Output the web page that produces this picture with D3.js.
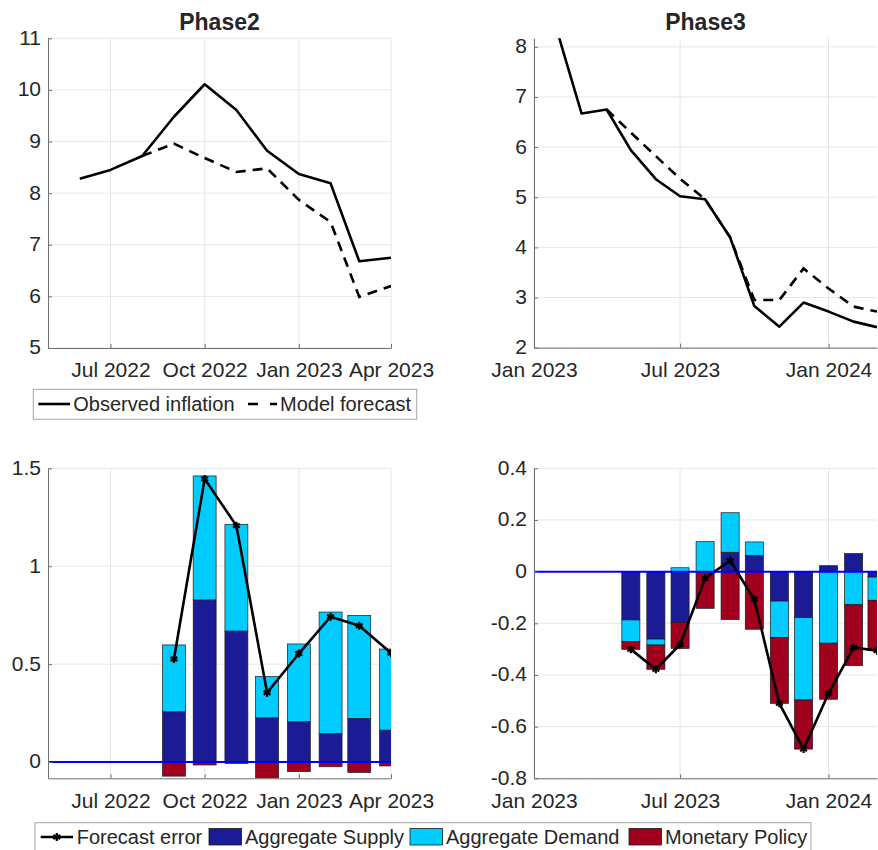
<!DOCTYPE html>
<html><head><meta charset="utf-8">
<script src="https://cdn.jsdelivr.net/npm/d3@7"></script>
<style>
body{margin:0;background:#fff}
svg{display:block}
text{font-family:"Liberation Sans",Arial,Helvetica,sans-serif;fill:#262626}
</style>
</head><body>
<svg id="c" width="878" height="850"></svg>
<script>
// ---------------- DATA ----------------
const p2ObsMonths = ["2022-06","2022-07","2022-08","2022-09","2022-10","2022-11","2022-12","2023-01","2023-02","2023-03","2023-04"];
const p2Observed  = [8.28, 8.45, 8.72, 9.48, 10.11, 9.61, 8.82, 8.37, 8.19, 6.68, 6.75];
const p2FcMonths  = ["2022-08","2022-09","2022-10","2022-11","2022-12","2023-01","2023-02","2023-03","2023-04"];
const p2Forecast  = [8.72, 8.96, 8.68, 8.41, 8.48, 7.87, 7.44, 5.99, 6.20];

const p3ObsMonths = ["2023-02","2023-03","2023-04","2023-05","2023-06","2023-07","2023-08","2023-09","2023-10","2023-11","2023-12","2024-01","2024-02","2024-03"];
const p3Observed  = [8.19, 6.67, 6.75, 5.94, 5.36, 5.02, 4.96, 4.20, 2.83, 2.42, 2.90, 2.72, 2.52, 2.41];
const p3FcMonths  = ["2023-04","2023-05","2023-06","2023-07","2023-08","2023-09","2023-10","2023-11","2023-12","2024-01","2024-02","2024-03"];
const p3Forecast  = [6.75, 6.29, 5.82, 5.37, 4.96, 4.20, 2.95, 2.95, 3.58, 3.18, 2.82, 2.72];

const p2BarMonths = ["2022-09","2022-10","2022-11","2022-12","2023-01","2023-02","2023-03","2023-04"];
const p2Supply    = [0.257, 0.828, 0.669, 0.226, 0.206, 0.146, 0.223, 0.163];
const p2Demand    = [0.341, 0.633, 0.545, 0.211, 0.397, 0.620, 0.526, 0.414];
const p2Monetary  = [-0.072, -0.015, -0.007, -0.083, -0.049, -0.024, -0.053, -0.020];
const p2FcError   = [0.526, 1.446, 1.207, 0.354, 0.554, 0.742, 0.696, 0.557];

const p3BarMonths = ["2023-05","2023-06","2023-07","2023-08","2023-09","2023-10","2023-11","2023-12","2024-01","2024-02","2024-03"];
const p3Supply    = [-0.187, -0.261, -0.197, 0.000, 0.075, 0.063, -0.114, -0.178, 0.023, 0.070, -0.021];
const p3Demand    = [-0.084, -0.023, 0.015, 0.116, 0.153, 0.052, -0.141, -0.319, -0.277, -0.128, -0.090];
const p3Monetary  = [-0.030, -0.094, -0.100, -0.142, -0.185, -0.223, -0.255, -0.190, -0.217, -0.236, -0.195];
const p3FcError   = [-0.301, -0.378, -0.282, -0.026, 0.043, -0.108, -0.510, -0.687, -0.471, -0.294, -0.306];

const p2XTicks = ["2022-07","2022-10","2023-01","2023-04"];
const p2XTickLabels = ["Jul 2022","Oct 2022","Jan 2023","Apr 2023"];
const p3XTicks = ["2023-01","2023-07","2024-01"];
const p3XTickLabels = ["Jan 2023","Jul 2023","Jan 2024"];
const p2XDomain = ["2022-05","2023-04"];
const p3XDomain = ["2023-01","2024-03"];

const topLeftYTicks = [5,6,7,8,9,10,11];
const topRightYTicks = [2,3,4,5,6,7,8];
const botLeftYTicks = [0,0.5,1,1.5];
const botRightYTicks = [-0.8,-0.6,-0.4,-0.2,0,0.2,0.4];

const titles = ["Phase2","Phase3"];
const lineLegend = ["Observed inflation","Model forecast"];
const barLegend = ["Forecast error","Aggregate Supply","Aggregate Demand","Monetary Policy"];
const seriesKeys = ["supply","demand","monetary"];
const seriesColors = {supply:"#1b1b96", demand:"#00ccff", monetary:"#a0001e"};

// ---------------- DRAW ----------------
const parse = d3.timeParse("%Y-%m");
const svg = d3.select("#c");
const FONT = 21;
const DAY = 864e5;
let clipId = 0;

function makePanel(o){
  const x = d3.scaleTime().domain(o.xDomain.map(parse)).range(o.xRange);
  const y = d3.scaleLinear().domain(o.yDomain).range(o.yRange);
  const g = svg.append("g");
  const [x0,x1] = o.xRange, [yb,yt] = o.yRange;
  const id = "clip"+(clipId++);
  svg.append("clipPath").attr("id",id).append("rect")
     .attr("x",x0).attr("y",yt).attr("width",x1-x0).attr("height",yb-yt);
  // grid
  const grid = g.append("g").attr("stroke","#e6e6e6").attr("stroke-width",1);
  grid.selectAll(".gx").data(o.xTicks.map(parse)).join("line")
     .attr("x1",d=>x(d)).attr("x2",d=>x(d)).attr("y1",yt).attr("y2",yb);
  grid.selectAll(".gy").data(o.yTicks).join("line")
     .attr("y1",d=>y(d)).attr("y2",d=>y(d)).attr("x1",x0).attr("x2",x1);
  const plot = g.append("g").attr("clip-path",`url(#${id})`);
  // axes
  const ax = g.append("g").attr("transform",`translate(0,${yb})`)
    .call(d3.axisBottom(x).tickValues(o.xTicks.map(parse))
      .tickFormat((d,i)=>o.xTickLabels[i]).tickSize(-4).tickSizeOuter(0).tickPadding(14.5));
  const ay = g.append("g").attr("transform",`translate(${x0},0)`)
    .call(d3.axisLeft(y).tickValues(o.yTicks).tickFormat(d=>String(d)).tickSize(-4).tickSizeOuter(0).tickPadding(7));
  ay.selectAll(".tick text").attr("dy","0.28em");
  [ax,ay].forEach(a=>{
    a.select(".domain").attr("stroke","#707070").attr("stroke-width",1);
    a.selectAll(".tick line").attr("stroke","#707070");
    a.selectAll("text").attr("font-size",FONT).attr("fill","#262626")
      .style("font-family",'"Liberation Sans",Arial,Helvetica,sans-serif');
  });
  if(o.title){
    g.append("text").attr("x",(x0+x1)/2).attr("y",29.5).attr("text-anchor","middle")
     .attr("font-size",23).attr("font-weight","bold").attr("fill","#000").text(o.title);
  }
  return {x,y,plot,g};
}

function linePanel(o){
  const P = makePanel(o);
  const line = d3.line().x(d=>P.x(d.date)).y(d=>P.y(d.v));
  const obs = o.obsMonths.map((m,i)=>({date:parse(m),v:o.observed[i]}));
  const fc = o.fcMonths.map((m,i)=>({date:parse(m),v:o.forecast[i]}));
  P.plot.append("path").datum(fc).attr("d",line).attr("fill","none")
    .attr("stroke","#000").attr("stroke-width",2.6).attr("stroke-dasharray","10,7");
  P.plot.append("path").datum(obs).attr("d",line).attr("fill","none")
    .attr("stroke","#000").attr("stroke-width",2.6).attr("stroke-linejoin","round");
}

function barPanel(o){
  const P = makePanel(o);
  const rows = o.months.map((m,i)=>({date:parse(m),supply:o.supply[i],demand:o.demand[i],monetary:o.monetary[i]}));
  const stack = d3.stack().keys(seriesKeys).offset(d3.stackOffsetDiverging)(rows);
  const half = 11.2*DAY;
  stack.forEach(layer=>{
    P.plot.append("g").attr("fill",seriesColors[layer.key]).attr("stroke","#1a1a1a").attr("stroke-width",0.7)
      .selectAll("rect").data(layer.filter(d=>d[1]!==d[0])).join("rect")
      .attr("x",d=>P.x(new Date(+d.data.date-half)))
      .attr("width",d=>P.x(new Date(+d.data.date+half))-P.x(new Date(+d.data.date-half)))
      .attr("y",d=>P.y(Math.max(d[0],d[1])))
      .attr("height",d=>Math.abs(P.y(d[0])-P.y(d[1])));
  });
  const fe = o.months.map((m,i)=>({date:parse(m),v:o.fcError[i]}));
  const line = d3.line().x(d=>P.x(d.date)).y(d=>P.y(d.v));
  P.plot.append("path").datum(fe).attr("d",line).attr("fill","none")
    .attr("stroke","#000").attr("stroke-width",2.6).attr("stroke-linejoin","round");
  P.plot.selectAll(".mk").data(fe).join("path")
    .attr("transform",d=>`translate(${P.x(d.date)},${P.y(d.v)})`)
    .attr("d",d3.symbol(d3.symbolAsterisk,44)).attr("fill","none").attr("stroke","#000").attr("stroke-width",2.2);
  const [x0,x1] = o.xRange;
  P.plot.append("line").attr("x1",x0).attr("x2",x1).attr("y1",P.y(0)).attr("y2",P.y(0))
    .attr("stroke","#0000ff").attr("stroke-width",2);
}

const LX = [48,391], RX = [534,877];
const TOPY = [348,38.3], BOTY = [778.3,468.3];

linePanel({title:titles[0],xDomain:p2XDomain,xRange:LX,yDomain:[5,11],yRange:TOPY,
  xTicks:p2XTicks,xTickLabels:p2XTickLabels,yTicks:topLeftYTicks,
  obsMonths:p2ObsMonths,observed:p2Observed,fcMonths:p2FcMonths,forecast:p2Forecast});
linePanel({title:titles[1],xDomain:p3XDomain,xRange:RX,yDomain:[2,8.17],yRange:[347.7,38.3],
  xTicks:p3XTicks,xTickLabels:p3XTickLabels,yTicks:topRightYTicks,
  obsMonths:p3ObsMonths,observed:p3Observed,fcMonths:p3FcMonths,forecast:p3Forecast});
barPanel({xDomain:p2XDomain,xRange:LX,yDomain:[-0.083,1.5],yRange:BOTY,
  xTicks:p2XTicks,xTickLabels:p2XTickLabels,yTicks:botLeftYTicks,
  months:p2BarMonths,supply:p2Supply,demand:p2Demand,monetary:p2Monetary,fcError:p2FcError});
barPanel({xDomain:p3XDomain,xRange:RX,yDomain:[-0.8,0.4],yRange:BOTY,
  xTicks:p3XTicks,xTickLabels:p3XTickLabels,yTicks:botRightYTicks,
  months:p3BarMonths,supply:p3Supply,demand:p3Demand,monetary:p3Monetary,fcError:p3FcError});

// ---------------- LEGENDS ----------------
const LF = 20;
// top legend
const lg1 = svg.append("g");
lg1.append("rect").attr("x",33.3).attr("y",389.3).attr("width",383.4).attr("height",30)
  .attr("fill","#fff").attr("stroke","#a6a6a6").attr("stroke-width",1);
lg1.append("line").attr("x1",38.3).attr("x2",70).attr("y1",404).attr("y2",404).attr("stroke","#000").attr("stroke-width",2.6);
lg1.append("text").attr("x",73.3).attr("y",404).attr("dy","0.35em").attr("font-size",LF).attr("fill","#000").text(lineLegend[0]);
lg1.append("line").attr("x1",248).attr("x2",277).attr("y1",404).attr("y2",404).attr("stroke","#000").attr("stroke-width",2.6).attr("stroke-dasharray","10,12");
lg1.append("text").attr("x",280).attr("y",404).attr("dy","0.35em").attr("font-size",LF).attr("fill","#000").text(lineLegend[1]);

// bottom legend
const lg2 = svg.append("g");
const ly = 837;
lg2.append("rect").attr("x",35).attr("y",822.7).attr("width",776).attr("height",30)
  .attr("fill","#fff").attr("stroke","#a6a6a6").attr("stroke-width",1);
lg2.append("line").attr("x1",40.7).attr("x2",73).attr("y1",ly).attr("y2",ly).attr("stroke","#000").attr("stroke-width",2.6);
lg2.append("path").attr("transform",`translate(56.8,${ly})`).attr("d",d3.symbol(d3.symbolAsterisk,44))
  .attr("fill","none").attr("stroke","#000").attr("stroke-width",2.2);
lg2.append("text").attr("x",76.7).attr("y",ly).attr("dy","0.35em").attr("font-size",LF).attr("fill","#000").text(barLegend[0]);
const sw = [[209,seriesColors.supply,245,barLegend[1]],[410,seriesColors.demand,446,barLegend[2]],[629,seriesColors.monetary,665,barLegend[3]]];
sw.forEach(([sx,c,tx,t])=>{
  lg2.append("rect").attr("x",sx).attr("y",828.5).attr("width",32.5).attr("height",16.5).attr("fill",c).attr("stroke","#1a1a1a").attr("stroke-width",0.8);
  lg2.append("text").attr("x",tx).attr("y",ly).attr("dy","0.35em").attr("font-size",LF).attr("fill","#000").text(t);
});
</script>
</body></html>
